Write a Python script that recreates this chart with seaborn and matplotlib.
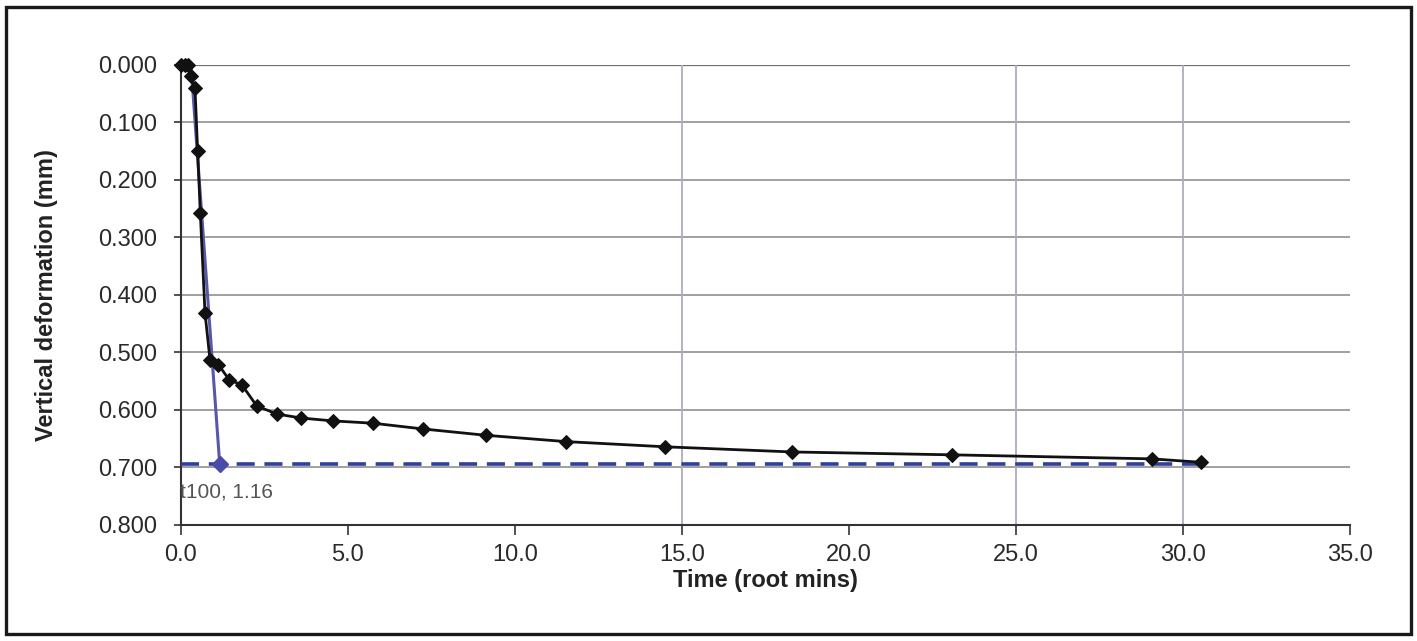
import matplotlib
matplotlib.use("Agg")
import matplotlib.pyplot as plt
from matplotlib.patches import Rectangle
from matplotlib.ticker import FormatStrFormatter
import seaborn as sns
import pandas as pd

# Settlement readings (time in root minutes, vertical deformation in mm)
time_root_min = [0.00, 0.12, 0.22, 0.30, 0.42, 0.50, 0.58, 0.72, 0.87, 1.12,
                 1.45, 1.82, 2.27, 2.87, 3.60, 4.55, 5.75, 7.25, 9.13, 11.53,
                 14.49, 18.30, 23.08, 29.07, 30.55]
deformation_mm = [0.000, 0.000, 0.000, 0.020, 0.040, 0.150, 0.258, 0.431, 0.513, 0.521,
                  0.548, 0.556, 0.593, 0.607, 0.614, 0.619, 0.623, 0.633, 0.644, 0.655,
                  0.664, 0.673, 0.678, 0.685, 0.691]

# Tangent construction (t100)
tangent_x = [0.30, 1.16]
tangent_y = [0.000, 0.694]
t100_x = 1.16
t100_y = 0.694
t100_label = "t100, 1.16"
final_line_x = [0.0, 30.55]
final_line_y = [0.694, 0.694]

x_ticks = [0, 5, 10, 15, 20, 25, 30, 35]
y_ticks = [0.0, 0.1, 0.2, 0.3, 0.4, 0.5, 0.6, 0.7, 0.8]
visible_vgrid = [15, 25, 30]

sns.set_theme(style="white")
plt.rcParams['font.family'] = ['Liberation Sans', 'DejaVu Sans']

fig = plt.figure(figsize=(14.17, 6.41), dpi=100)
ax = fig.add_axes([0.1277, 0.181, 0.825, 0.7176])

# gridlines
for yv in y_ticks[:-1]:
    ax.axhline(yv, color="#a0a0a0", lw=1.4, zorder=0)
ax.axhline(0.0, color="#707070", lw=1.6, zorder=0)
for xv in visible_vgrid:
    ax.axvline(xv, color="#acacbc", lw=1.3, zorder=0)

df = pd.DataFrame({"t": time_root_min, "d": deformation_mm})
sns.lineplot(data=df, x="t", y="d", ax=ax, sort=False, estimator=None,
             color="#111111", lw=2.0, marker="D", markersize=7,
             markeredgecolor="#111111", zorder=4, clip_on=False)

sns.lineplot(x=final_line_x, y=final_line_y, ax=ax, color="#2f3f9a", lw=2.6,
             linestyle=(0, (5, 2.7)), zorder=3, estimator=None, sort=False)
sns.lineplot(x=tangent_x, y=tangent_y, ax=ax, color="#5858a8", lw=2.2,
             zorder=3, estimator=None, sort=False)
ax.plot([t100_x], [t100_y], marker="D", markersize=8, color="#4a4aa8",
        zorder=5, clip_on=False)
ax.text(1.35, 0.742, t100_label, ha="center", va="center", fontsize=15,
        color="#555555")

ax.set_xlim(0, 35)
ax.set_ylim(0.8, 0.0)
ax.set_xticks(x_ticks)
ax.set_yticks(y_ticks)
ax.xaxis.set_major_formatter(FormatStrFormatter("%.1f"))
ax.yaxis.set_major_formatter(FormatStrFormatter("%.3f"))
ax.tick_params(axis="y", direction="out", length=5, width=1.2, color="#333333",
               labelsize=17, pad=12, labelcolor="#2a2a2a", left=True)
ax.tick_params(axis="x", direction="out", length=7, width=1.2, color="#333333",
               labelsize=17, pad=7, labelcolor="#2a2a2a", bottom=True)

for s in ["top", "right"]:
    ax.spines[s].set_visible(False)
for s in ["left", "bottom"]:
    ax.spines[s].set_color("#333333")
    ax.spines[s].set_linewidth(1.5)

ax.set_xlabel("Time (root mins)", fontsize=17, fontweight="bold", labelpad=2,
              color="#222222")
ax.set_ylabel("Vertical deformation (mm)", fontsize=17, fontweight="bold",
              labelpad=29, color="#222222")

fig.patches.append(Rectangle((0.0042, 0.011), 0.9915, 0.978, transform=fig.transFigure,
                             fill=False, edgecolor="#1a1a1a", linewidth=2.4))

fig.savefig("out.png", dpi=100)
